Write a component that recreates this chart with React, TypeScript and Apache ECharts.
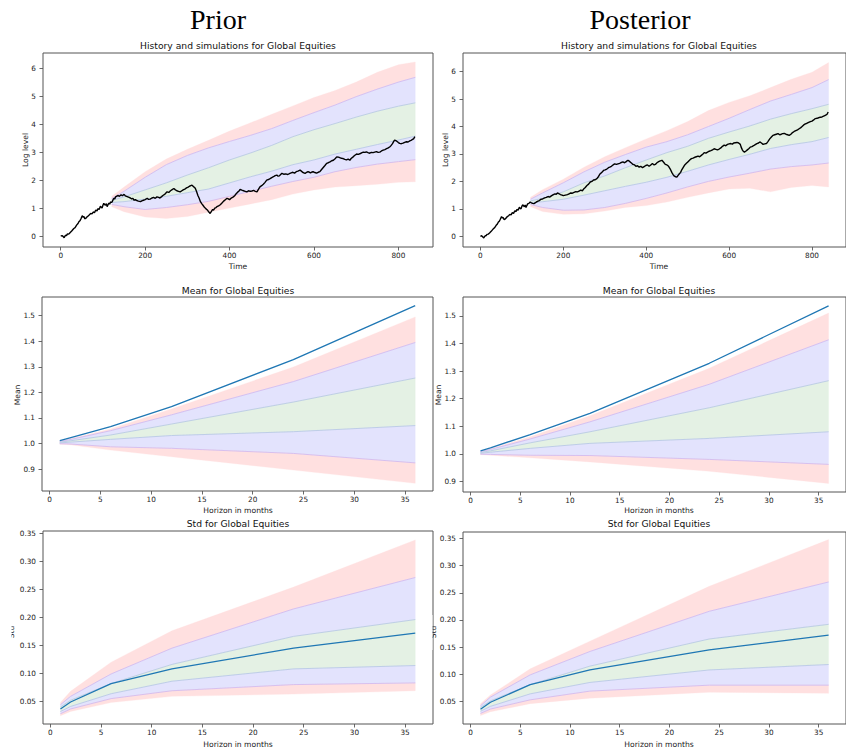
import React, { useEffect, useRef } from "react";
import * as echarts from "echarts";

// ---------- DATA ----------
const SIM_T = [121, 150, 200, 250, 300, 350, 400, 450, 500, 550, 600, 650, 700, 750, 800, 840];

const PRI_Q1 = [1.42, 1.75, 2.3, 2.75, 3.1, 3.42, 3.75, 4.05, 4.35, 4.65, 4.95, 5.2, 5.5, 5.85, 6.12, 6.22];
const PRI_Q2 = [1.34, 1.6, 2.1, 2.55, 2.88, 3.15, 3.38, 3.6, 3.84, 4.13, 4.41, 4.68, 4.98, 5.25, 5.5, 5.67];
const PRI_Q3 = [1.27, 1.4, 1.65, 1.9, 2.18, 2.44, 2.72, 2.97, 3.24, 3.55, 3.8, 4.02, 4.25, 4.46, 4.64, 4.76];
const PRI_Q4 = [1.2, 1.23, 1.32, 1.42, 1.55, 1.68, 1.9, 2.12, 2.32, 2.55, 2.72, 2.93, 3.1, 3.27, 3.43, 3.57];
const PRI_Q5 = [1.13, 1.05, 0.95, 1.02, 1.12, 1.24, 1.42, 1.6, 1.78, 1.95, 2.1, 2.3, 2.45, 2.57, 2.66, 2.73];
const PRI_Q6 = [1.05, 0.87, 0.68, 0.63, 0.7, 0.85, 1.0, 1.15, 1.3, 1.5, 1.65, 1.75, 1.8, 1.85, 1.92, 1.94];

const POS_Q1 = [1.42, 1.7, 2.08, 2.52, 2.9, 3.23, 3.55, 3.85, 4.18, 4.58, 4.88, 5.12, 5.42, 5.72, 5.98, 6.33];
const POS_Q2 = [1.35, 1.58, 1.95, 2.35, 2.7, 2.98, 3.25, 3.45, 3.7, 4.0, 4.3, 4.62, 4.93, 5.17, 5.42, 5.71];
const POS_Q3 = [1.29, 1.38, 1.62, 1.95, 2.2, 2.5, 2.78, 3.05, 3.28, 3.57, 3.8, 4.02, 4.27, 4.47, 4.65, 4.81];
const POS_Q4 = [1.23, 1.26, 1.35, 1.5, 1.66, 1.82, 1.97, 2.15, 2.37, 2.6, 2.8, 2.99, 3.2, 3.34, 3.45, 3.6];
const POS_Q5 = [1.16, 1.05, 0.95, 0.96, 1.05, 1.2, 1.38, 1.58, 1.8, 2.0, 2.16, 2.3, 2.45, 2.54, 2.6, 2.67];
const POS_Q6 = [1.08, 0.9, 0.8, 0.82, 0.92, 1.05, 1.12, 1.25, 1.42, 1.58, 1.72, 1.75, 1.62, 1.78, 1.85, 1.8];

const PRI_HIST: [number, number][] = [
  [0, 0], [3, 0.02], [6, -0.02], [8, -0.06], [10, 0.0], [12, 0.03], [14, 0.02], [16, 0.08], [19, 0.07],
  [22, 0.12], [26, 0.18], [31, 0.27], [34, 0.3], [38, 0.4], [41, 0.45], [43, 0.51], [46, 0.56], [48, 0.62],
  [51, 0.73], [53, 0.68], [55, 0.7], [57, 0.62], [59, 0.63], [62, 0.68], [65, 0.72], [68, 0.76], [71, 0.81],
  [74, 0.79], [77, 0.86], [80, 0.84], [83, 0.93], [86, 0.9], [88, 0.98], [91, 0.95], [94, 1.07], [96, 1.03],
  [98, 1.0], [100, 1.1], [102, 1.17], [104, 1.12], [106, 1.1], [108, 1.16], [110, 1.05], [112, 1.12],
  [114, 1.18], [116, 1.14], [118, 1.22], [120, 1.2], [122, 1.23], [124, 1.3], [126, 1.35], [128, 1.33],
  [130, 1.4], [133, 1.43], [136, 1.45], [139, 1.42], [143, 1.48], [146, 1.44], [150, 1.49], [153, 1.44],
  [156, 1.42], [159, 1.4], [162, 1.38], [165, 1.36], [168, 1.33], [171, 1.35], [173, 1.29], [177, 1.3],
  [180, 1.27], [184, 1.25], [189, 1.23], [192, 1.26], [196, 1.28], [200, 1.3], [205, 1.35], [208, 1.31],
  [212, 1.32], [216, 1.36], [220, 1.38], [224, 1.35], [228, 1.4], [232, 1.38], [235, 1.36], [239, 1.41],
  [242, 1.45], [247, 1.5], [252, 1.58], [256, 1.56], [260, 1.62], [264, 1.66], [268, 1.7], [271, 1.66],
  [275, 1.62], [279, 1.6], [283, 1.58], [287, 1.62], [290, 1.65], [294, 1.68], [298, 1.72], [302, 1.75],
  [305, 1.78], [308, 1.8], [311, 1.82], [313, 1.79], [315, 1.76], [317, 1.74], [319, 1.7], [322, 1.58],
  [325, 1.45], [328, 1.35], [331, 1.23], [334, 1.16], [337, 1.1], [340, 1.04], [343, 0.99], [346, 0.95],
  [348, 0.92], [351, 0.86], [354, 0.81], [357, 0.88], [360, 0.95], [362, 0.93], [365, 1.0], [368, 1.02],
  [370, 1.05], [374, 1.08], [378, 1.12], [382, 1.18], [386, 1.25], [390, 1.3], [394, 1.35], [397, 1.33],
  [400, 1.3], [404, 1.36], [409, 1.4], [412, 1.44], [415, 1.5], [418, 1.55], [420, 1.58], [423, 1.62],
  [425, 1.67], [429, 1.64], [433, 1.62], [437, 1.6], [441, 1.58], [445, 1.62], [449, 1.6], [453, 1.61],
  [457, 1.63], [461, 1.6], [465, 1.58], [468, 1.66], [472, 1.76], [476, 1.8], [480, 1.85], [484, 1.92],
  [488, 2.0], [492, 2.02], [496, 2.05], [500, 2.09], [504, 2.12], [508, 2.16], [512, 2.18], [515, 2.14],
  [518, 2.15], [521, 2.2], [524, 2.24], [528, 2.21], [533, 2.22], [538, 2.2], [543, 2.24], [546, 2.26],
  [550, 2.28], [554, 2.25], [558, 2.3], [562, 2.32], [567, 2.36], [570, 2.32], [573, 2.28], [576, 2.26],
  [579, 2.24], [583, 2.28], [586, 2.3], [589, 2.28], [592, 2.26], [595, 2.29], [598, 2.3], [602, 2.27],
  [606, 2.25], [610, 2.28], [614, 2.3], [618, 2.38], [622, 2.45], [626, 2.52], [630, 2.6], [634, 2.62],
  [638, 2.65], [642, 2.69], [646, 2.71], [650, 2.76], [654, 2.83], [658, 2.82], [661, 2.8], [665, 2.78],
  [669, 2.77], [673, 2.74], [677, 2.72], [681, 2.75], [685, 2.71], [688, 2.77], [692, 2.82], [696, 2.88],
  [701, 2.93], [705, 2.92], [710, 2.95], [714, 2.98], [717, 3.0], [721, 2.99], [724, 3.01], [728, 2.98],
  [732, 2.96], [736, 2.99], [740, 2.98], [744, 3.0], [748, 3.02], [752, 2.99], [756, 3.0], [760, 3.04],
  [764, 3.07], [768, 3.09], [772, 3.12], [776, 3.15], [780, 3.19], [783, 3.24], [786, 3.3], [789, 3.38],
  [791, 3.43], [794, 3.41], [797, 3.38], [800, 3.34], [803, 3.31], [807, 3.3], [811, 3.32], [815, 3.35],
  [819, 3.37], [823, 3.36], [827, 3.4], [830, 3.42], [833, 3.45], [836, 3.47], [839, 3.55],
];

const POS_HIST: [number, number][] = [
  [0, 0], [3, 0.02], [6, -0.03], [8, -0.06], [10, -0.01], [12, 0.02], [14, 0.03], [16, 0.07], [19, 0.08],
  [22, 0.12], [26, 0.18], [31, 0.27], [34, 0.31], [38, 0.4], [41, 0.45], [43, 0.51], [46, 0.56], [48, 0.62],
  [51, 0.72], [53, 0.67], [55, 0.68], [57, 0.61], [59, 0.62], [62, 0.67], [65, 0.72], [68, 0.75], [71, 0.8],
  [74, 0.78], [77, 0.86], [80, 0.83], [83, 0.93], [86, 0.9], [88, 0.98], [91, 0.95], [94, 1.06], [96, 1.02],
  [98, 1.0], [100, 1.09], [102, 1.15], [104, 1.11], [106, 1.08], [108, 1.14], [110, 1.05], [112, 1.12],
  [114, 1.18], [117, 1.2], [120, 1.25], [123, 1.22], [126, 1.2], [129, 1.19], [132, 1.22], [135, 1.25],
  [139, 1.28], [142, 1.3], [146, 1.35], [150, 1.36], [155, 1.4], [159, 1.42], [163, 1.45], [167, 1.43],
  [172, 1.48], [176, 1.52], [180, 1.55], [183, 1.53], [186, 1.58], [190, 1.55], [193, 1.52], [197, 1.5],
  [200, 1.48], [205, 1.5], [210, 1.52], [214, 1.55], [218, 1.58], [222, 1.57], [226, 1.6], [230, 1.63],
  [234, 1.62], [238, 1.65], [242, 1.68], [246, 1.66], [249, 1.72], [253, 1.78], [257, 1.85], [261, 1.9],
  [265, 1.98], [269, 2.0], [273, 2.05], [277, 2.06], [281, 2.1], [285, 2.18], [289, 2.28], [293, 2.33],
  [297, 2.4], [301, 2.42], [305, 2.45], [309, 2.5], [312, 2.52], [316, 2.55], [320, 2.6], [324, 2.64],
  [328, 2.62], [332, 2.64], [336, 2.66], [340, 2.69], [344, 2.71], [347, 2.68], [350, 2.7], [353, 2.74],
  [356, 2.77], [359, 2.74], [362, 2.7], [365, 2.66], [368, 2.62], [372, 2.6], [375, 2.55], [379, 2.57],
  [383, 2.52], [387, 2.55], [391, 2.5], [395, 2.54], [399, 2.58], [403, 2.6], [407, 2.55], [411, 2.6],
  [415, 2.65], [419, 2.6], [422, 2.62], [426, 2.68], [430, 2.72], [434, 2.75], [438, 2.77], [442, 2.7],
  [446, 2.62], [450, 2.6], [454, 2.55], [458, 2.45], [462, 2.32], [465, 2.25], [468, 2.19], [471, 2.17],
  [474, 2.16], [477, 2.22], [480, 2.28], [483, 2.33], [485, 2.4], [489, 2.5], [493, 2.6], [497, 2.66],
  [501, 2.72], [505, 2.78], [509, 2.83], [513, 2.85], [517, 2.88], [521, 2.9], [525, 2.92], [529, 2.9],
  [533, 2.95], [537, 3.0], [540, 3.05], [544, 3.03], [548, 3.07], [552, 3.1], [556, 3.12], [560, 3.15],
  [564, 3.19], [568, 3.17], [572, 3.15], [576, 3.18], [580, 3.22], [584, 3.28], [588, 3.32], [592, 3.3],
  [596, 3.35], [600, 3.37], [604, 3.38], [608, 3.36], [611, 3.4], [615, 3.41], [619, 3.42], [623, 3.4],
  [627, 3.35], [629, 3.25], [632, 3.15], [634, 3.1], [637, 3.07], [640, 3.1], [644, 3.15], [648, 3.2],
  [651, 3.25], [655, 3.27], [659, 3.3], [663, 3.34], [667, 3.38], [671, 3.4], [674, 3.44], [678, 3.4],
  [682, 3.35], [686, 3.37], [690, 3.38], [694, 3.46], [698, 3.55], [702, 3.62], [706, 3.68], [710, 3.7],
  [714, 3.72], [718, 3.74], [722, 3.7], [726, 3.72], [729, 3.74], [733, 3.75], [737, 3.72], [741, 3.7],
  [745, 3.68], [749, 3.72], [753, 3.78], [757, 3.82], [761, 3.85], [765, 3.88], [769, 3.92], [773, 3.96],
  [776, 4.0], [780, 4.06], [784, 4.1], [788, 4.12], [792, 4.15], [796, 4.18], [800, 4.2], [804, 4.24],
  [808, 4.29], [812, 4.3], [816, 4.32], [820, 4.34], [824, 4.35], [828, 4.38], [832, 4.41], [836, 4.44],
  [839, 4.53],
];

const HORIZON = [1, 2, 6, 12, 24, 36];

const PRI_MEAN = [1.011, 1.022, 1.066, 1.144, 1.328, 1.539];
const PRI_MEAN_Q1 = [1.01, 1.018, 1.057, 1.135, 1.299, 1.495];
const PRI_MEAN_Q2 = [1.008, 1.015, 1.05, 1.112, 1.242, 1.395];
const PRI_MEAN_Q3 = [1.005, 1.01, 1.033, 1.076, 1.162, 1.256];
const PRI_MEAN_Q4 = [1.002, 1.005, 1.016, 1.031, 1.046, 1.07];
const PRI_MEAN_Q5 = [0.999, 0.998, 0.987, 0.981, 0.961, 0.924];
const PRI_MEAN_Q6 = [0.997, 0.995, 0.974, 0.948, 0.896, 0.844];

const POS_MEAN = [1.011, 1.022, 1.07, 1.147, 1.328, 1.536];
const POS_MEAN_Q1 = [1.01, 1.019, 1.062, 1.138, 1.31, 1.51];
const POS_MEAN_Q2 = [1.008, 1.016, 1.054, 1.116, 1.252, 1.413];
const POS_MEAN_Q3 = [1.005, 1.011, 1.04, 1.08, 1.167, 1.265];
const POS_MEAN_Q4 = [1.002, 1.006, 1.02, 1.038, 1.056, 1.08];
const POS_MEAN_Q5 = [0.999, 0.998, 0.995, 0.994, 0.98, 0.962];
const POS_MEAN_Q6 = [0.997, 0.995, 0.986, 0.971, 0.937, 0.893];

const PRI_STD = [0.0365, 0.049, 0.0816, 0.108, 0.145, 0.172];
const PRI_STD_Q1 = [0.048, 0.068, 0.12, 0.176, 0.254, 0.338];
const PRI_STD_Q2 = [0.044, 0.059, 0.099, 0.145, 0.215, 0.271];
const PRI_STD_Q3 = [0.04, 0.052, 0.082, 0.116, 0.166, 0.196];
const PRI_STD_Q4 = [0.032, 0.041, 0.0637, 0.086, 0.108, 0.114];
const PRI_STD_Q5 = [0.028, 0.0365, 0.055, 0.069, 0.08, 0.083];
const PRI_STD_Q6 = [0.0245, 0.032, 0.048, 0.059, 0.063, 0.069];

const POS_STD = [0.0357, 0.0485, 0.081, 0.108, 0.145, 0.172];
const POS_STD_Q1 = [0.046, 0.062, 0.11, 0.161, 0.262, 0.348];
const POS_STD_Q2 = [0.042, 0.058, 0.099, 0.142, 0.216, 0.27];
const POS_STD_Q3 = [0.039, 0.051, 0.081, 0.115, 0.165, 0.192];
const POS_STD_Q4 = [0.032, 0.041, 0.064, 0.085, 0.108, 0.118];
const POS_STD_Q5 = [0.028, 0.036, 0.053, 0.069, 0.08, 0.08];
const POS_STD_Q6 = [0.024, 0.031, 0.046, 0.056, 0.067, 0.065];

const TIME_TICKS = [0, 200, 400, 600, 800];
const LOG_TICKS = [0, 1, 2, 3, 4, 5, 6];
const HORIZON_TICKS = [0, 5, 10, 15, 20, 25, 30, 35];
const MEAN_TICKS = [0.9, 1.0, 1.1, 1.2, 1.3, 1.4, 1.5];
const STD_TICKS = [0.05, 0.1, 0.15, 0.2, 0.25, 0.3, 0.35];

const SUPTITLES = ["Prior", "Posterior"];
const TITLE_HIST = "History and simulations for Global Equities";
const TITLE_MEAN = "Mean for Global Equities";
const TITLE_STD = "Std for Global Equities";

// ---------- LAYOUT ----------
const GRIDS = [
  { left: 43, top: 53, width: 390, height: 194 },
  { left: 463, top: 53, width: 392, height: 194 },
  { left: 42, top: 297, width: 391, height: 194 },
  { left: 463, top: 297, width: 392, height: 195 },
  { left: 43, top: 531, width: 390, height: 193 },
  { left: 463, top: 532, width: 392, height: 192 },
];
const X_RANGES = [
  [-42, 882], [-42, 882], [-0.75, 37.75], [-0.76, 37.75], [-0.72, 37.75], [-0.76, 37.75],
];
const Y_RANGES = [
  [-0.39, 6.54], [-0.39, 6.68], [0.814, 1.573], [0.862, 1.568], [0.0097, 0.354], [0.0085, 0.362],
];

const FONT = "DejaVu Sans";
const FILLS = ["#ffe0e0", "#e3e3fd", "#e4f1e4", "#e3e3fd", "#ffe0e0"];
const EDGE = ["#d3bbee", "#b9cae4", "#b9cae4", "#d3bbee"];

function bandSeries(gi: number, xs: number[], qs: number[][]) {
  const out: any[] = [];
  for (let k = 0; k < 5; k++) {
    const upper = qs[k];
    const lower = qs[k + 1];
    const fill = FILLS[k];
    out.push({
      type: "custom",
      coordinateSystem: "cartesian2d",
      xAxisIndex: gi,
      yAxisIndex: gi,
      data: [[xs[0], lower[0]]],
      silent: true,
      clip: true,
      z: 2,
      renderItem: (_params: any, api: any) => {
        const pts: number[][] = [];
        for (let i = 0; i < xs.length; i++) pts.push(api.coord([xs[i], upper[i]]));
        for (let i = xs.length - 1; i >= 0; i--) pts.push(api.coord([xs[i], lower[i]]));
        return { type: "polygon", shape: { points: pts }, style: { fill, stroke: fill, lineWidth: 0.3 } };
      },
    });
  }
  for (let k = 1; k <= 4; k++) {
    out.push({
      type: "line",
      xAxisIndex: gi,
      yAxisIndex: gi,
      data: xs.map((x, i) => [x, qs[k][i]]),
      symbol: "none",
      silent: true,
      z: 2.5,
      lineStyle: { color: EDGE[k - 1], width: 0.9 },
    });
  }
  return out;
}

function lineSeries(gi: number, data: number[][], color: string, width: number) {
  return {
    type: "line",
    xAxisIndex: gi,
    yAxisIndex: gi,
    data,
    symbol: "none",
    silent: true,
    z: 3,
    lineStyle: { color, width },
  };
}

function makeFmt(ticks: number[], dec: number) {
  return (v: number) => (ticks.some((t) => Math.abs(t - v) < 1e-9) ? v.toFixed(dec) : "");
}

function text(x: number, y: number, t: string, size: number, opts: any = {}) {
  return {
    type: "text",
    x,
    y,
    rotation: opts.rotation || 0,
    z: 20,
    style: {
      text: t,
      fontSize: size,
      fontFamily: opts.family || FONT,
      fill: opts.fill || "#222",
      align: "center",
      verticalAlign: "middle",
      textAlign: "center",
      textVerticalAlign: "middle",
    },
  };
}

export default function App() {
  const ref = useRef<HTMLDivElement>(null);
  useEffect(() => {
    if (!ref.current) return;
    const chart = echarts.init(ref.current, null, { renderer: "svg", width: 846, height: 752 });

    const xTicks = [TIME_TICKS, TIME_TICKS, HORIZON_TICKS, HORIZON_TICKS, HORIZON_TICKS, HORIZON_TICKS];
    const yTicks = [LOG_TICKS, LOG_TICKS, MEAN_TICKS, MEAN_TICKS, STD_TICKS, STD_TICKS];
    const yDec = [0, 0, 1, 1, 2, 2];

    const grid = GRIDS.map((g) => ({
      ...g,
      show: true,
      borderColor: "#555",
      borderWidth: 1,
      backgroundColor: "transparent",
      z: 10,
      containLabel: false,
    }));

    const tickLabel = { fontSize: 7.3, color: "#222", fontFamily: FONT };

    const xAxis = GRIDS.map((_, i) => ({
      type: "value",
      gridIndex: i,
      min: X_RANGES[i][0],
      max: X_RANGES[i][1],
      axisLine: { show: false, onZero: false },
      splitLine: { show: false },
      axisTick: { show: true, length: 3.5, lineStyle: { color: "#444", width: 0.8 }, customValues: xTicks[i] },
      axisLabel: { ...tickLabel, margin: 5, customValues: xTicks[i], formatter: makeFmt(xTicks[i], 0) },
    }));
    const yAxis = GRIDS.map((_, i) => ({
      type: "value",
      gridIndex: i,
      min: Y_RANGES[i][0],
      max: Y_RANGES[i][1],
      axisLine: { show: false, onZero: false },
      splitLine: { show: false },
      axisTick: { show: true, length: 3.5, lineStyle: { color: "#444", width: 0.8 }, customValues: yTicks[i] },
      axisLabel: { ...tickLabel, margin: 7, customValues: yTicks[i], formatter: makeFmt(yTicks[i], yDec[i]) },
    }));

    const toPairs = (xs: number[], ys: number[]) => xs.map((x, i) => [x, ys[i]]);

    const series: any[] = [
      ...bandSeries(0, SIM_T, [PRI_Q1, PRI_Q2, PRI_Q3, PRI_Q4, PRI_Q5, PRI_Q6]),
      lineSeries(0, PRI_HIST, "#000", 1.4),
      ...bandSeries(1, SIM_T, [POS_Q1, POS_Q2, POS_Q3, POS_Q4, POS_Q5, POS_Q6]),
      lineSeries(1, POS_HIST, "#000", 1.4),
      ...bandSeries(2, HORIZON, [PRI_MEAN_Q1, PRI_MEAN_Q2, PRI_MEAN_Q3, PRI_MEAN_Q4, PRI_MEAN_Q5, PRI_MEAN_Q6]),
      lineSeries(2, toPairs(HORIZON, PRI_MEAN), "#1f77b4", 1.3),
      ...bandSeries(3, HORIZON, [POS_MEAN_Q1, POS_MEAN_Q2, POS_MEAN_Q3, POS_MEAN_Q4, POS_MEAN_Q5, POS_MEAN_Q6]),
      lineSeries(3, toPairs(HORIZON, POS_MEAN), "#1f77b4", 1.3),
      ...bandSeries(4, HORIZON, [PRI_STD_Q1, PRI_STD_Q2, PRI_STD_Q3, PRI_STD_Q4, PRI_STD_Q5, PRI_STD_Q6]),
      lineSeries(4, toPairs(HORIZON, PRI_STD), "#1f77b4", 1.3),
      ...bandSeries(5, HORIZON, [POS_STD_Q1, POS_STD_Q2, POS_STD_Q3, POS_STD_Q4, POS_STD_Q5, POS_STD_Q6]),
      lineSeries(5, toPairs(HORIZON, POS_STD), "#1f77b4", 1.3),
    ];

    const R = Math.PI / 2;
    const graphic = [
      text(218, 19, SUPTITLES[0], 28, { family: "Liberation Serif", fill: "#000" }),
      text(640, 19, SUPTITLES[1], 28, { family: "Liberation Serif", fill: "#000" }),
      text(238, 45, TITLE_HIST, 9.2, { fill: "#111" }),
      text(659, 45, TITLE_HIST, 9.2, { fill: "#111" }),
      text(238, 290, TITLE_MEAN, 9.2, { fill: "#111" }),
      text(659, 290, TITLE_MEAN, 9.2, { fill: "#111" }),
      text(238, 523, TITLE_STD, 9.2, { fill: "#111" }),
      text(659, 523, TITLE_STD, 9.2, { fill: "#111" }),
      text(238, 266, "Time", 7.6),
      text(659, 266, "Time", 7.6),
      text(238, 510, "Horizon in months", 7.6),
      text(659, 510, "Horizon in months", 7.6),
      text(238, 744, "Horizon in months", 7.6),
      text(659, 744, "Horizon in months", 7.6),
      text(25, 150, "Log level", 7.6, { rotation: R }),
      text(445, 150, "Log level", 7.6, { rotation: R }),
      text(17, 395, "Mean", 7.6, { rotation: R }),
      text(438, 395, "Mean", 7.6, { rotation: R }),
      text(11, 632, "Std", 7.6, { rotation: R }),
      text(433, 632, "Std", 7.6, { rotation: R }),
      { type: "rect", z: 30, silent: true, shape: { x: 0, y: 615, width: 11.5, height: 35 }, style: { fill: "#fff" } },
      { type: "rect", z: 30, silent: true, shape: { x: 421, y: 615, width: 11.5, height: 35 }, style: { fill: "#fff" } },
    ];

    chart.setOption({
      animation: false,
      backgroundColor: "#fff",
      grid,
      xAxis,
      yAxis,
      series,
      graphic,
    });
    return () => chart.dispose();
  }, []);
  return <div ref={ref} style={{ position: "absolute", left: 0, top: 0, width: 846, height: 752 }} />;
}
